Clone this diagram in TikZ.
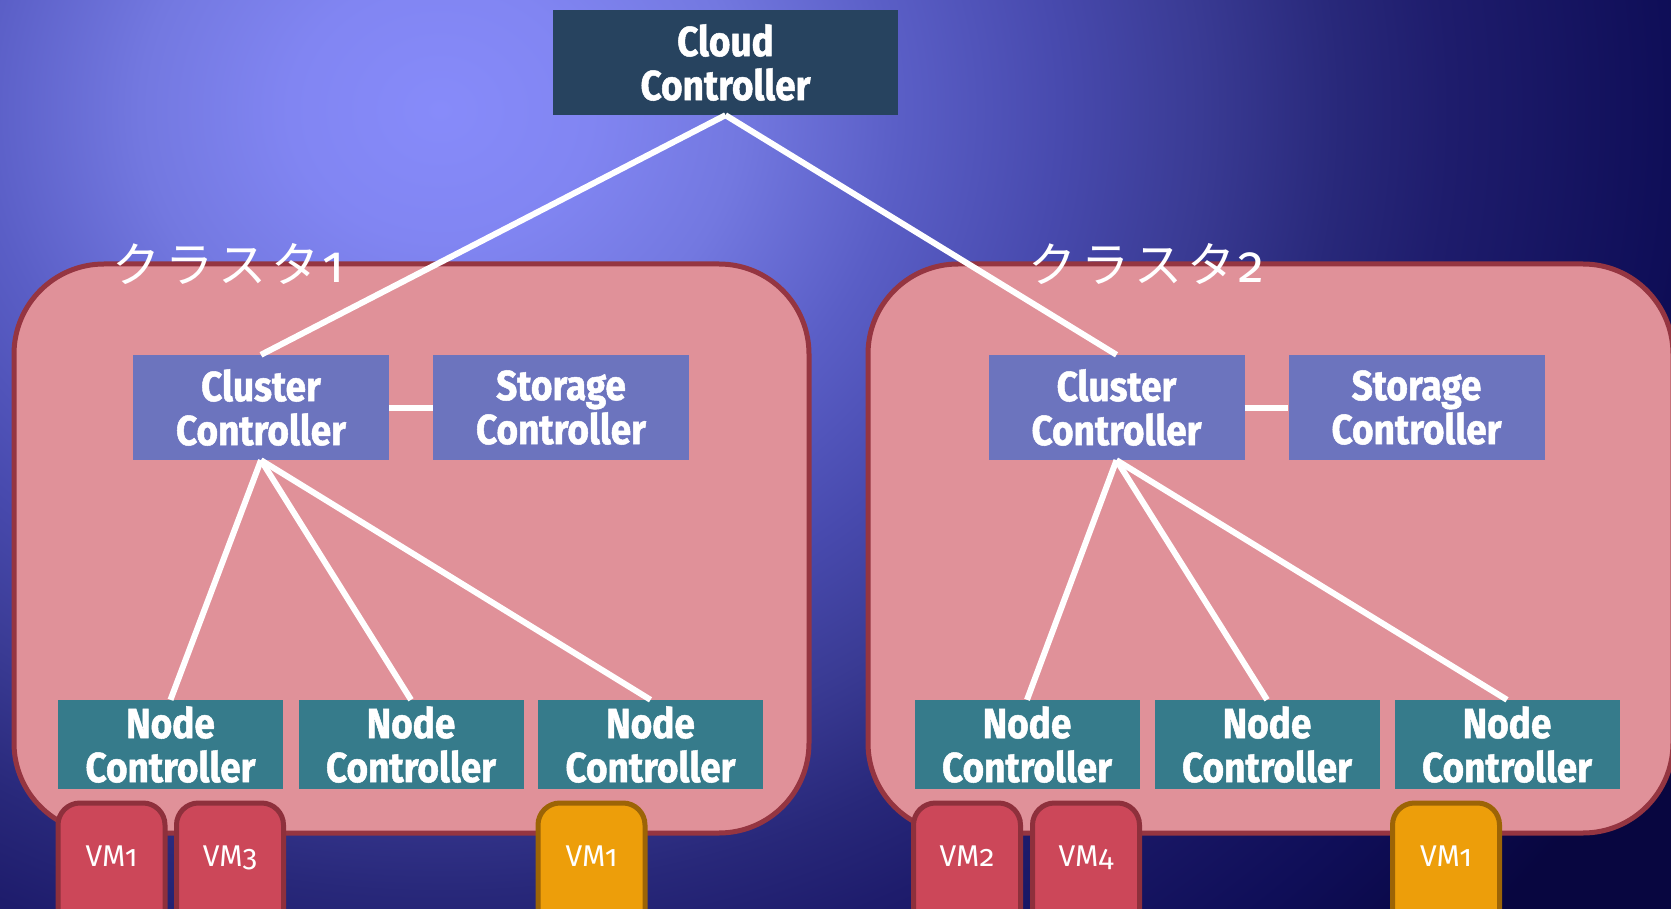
\documentclass[tikz,border=0pt]{standalone}
\usepackage{fontspec}
\setmainfont{Fira Sans}
\newfontfamily\ctlfont{Fira Sans}[FakeStretch=0.88, FakeBold=1.2]
\newfontfamily\vmfont{Fira Sans}[Numbers=OldStyle]
\newfontfamily\cjk{Noto Sans CJK JP}

\definecolor{deepnavy}{rgb}{.031,.024,.251}
\definecolor{cloudfill}{HTML}{27435F}
\definecolor{clusterfill}{HTML}{E09199}
\definecolor{clusteredge}{HTML}{953541}
\definecolor{ctlfill}{HTML}{6C74BE}
\definecolor{nodefill}{HTML}{367B8B}
\definecolor{vmredfill}{HTML}{CC4759}
\definecolor{vmrededge}{HTML}{8E303C}
\definecolor{vmorfill}{HTML}{ED9E0A}
\definecolor{vmoredge}{HTML}{9C6406}

% backdrop glow: bright periwinkle fading to deep navy (25bp = outer rim)
\pgfdeclareradialshading{skyglow}{\pgfpoint{0bp}{0bp}}{%
  rgb(0bp)=(.529,.545,.980); rgb(2.5bp)=(.506,.522,.949);
  rgb(5bp)=(.451,.471,.878); rgb(7.67bp)=(.353,.369,.776);
  rgb(10.33bp)=(.282,.290,.682); rgb(12.67bp)=(.227,.231,.580);
  rgb(15bp)=(.157,.157,.478); rgb(16.83bp)=(.118,.110,.424);
  rgb(20.5bp)=(.059,.055,.345); rgb(23.33bp)=(.031,.024,.251);
  rgb(25bp)=(.031,.024,.251); rgb(50bp)=(.031,.024,.251)}

\newcommand{\clusterword}[1]{ク\kern5ptラ\kern5ptス\kern5ptタ\kern3pt{\vmfont\fontsize{52}{52}\selectfont #1}}

\begin{document}
\begin{tikzpicture}[x=1pt,y=-1pt,
  cluster/.style={draw=clusteredge, fill=clusterfill, line width=5pt, rounded corners=90pt},
  clabel/.style={text=white, inner sep=0pt, font=\cjk\fontsize{48}{48}\selectfont},
  ctlbase/.style={rectangle, inner sep=0pt, align=center, text=white,
    font=\ctlfont\bfseries\fontsize{42}{44}\selectfont},
  cloudbox/.style={ctlbase, fill=cloudfill, minimum width=345pt, minimum height=105pt},
  clubox/.style={ctlbase, fill=ctlfill, minimum width=256pt, minimum height=105pt},
  ncbox/.style={ctlbase, fill=nodefill, minimum width=225pt, minimum height=89pt},
  vmbase/.style={rectangle, rounded corners=22pt, line width=5pt, inner sep=0pt,
    minimum width=107pt, minimum height=140pt, text height=20pt, text depth=0pt,
    text=white, font=\vmfont\fontsize{30}{30}\selectfont},
  vmred/.style={vmbase, draw=vmrededge, fill=vmredfill},
  vmorange/.style={vmbase, draw=vmoredge, fill=vmorfill},
  link/.style={draw=white, line width=6pt}]

\useasboundingbox (0,0) rectangle (1671,909);
\clip (0,0) rectangle (1671,909);
\fill[deepnavy] (0,0) rectangle (1671,909);
\shade[shading=skyglow] (440,110) ellipse [x radius=1500pt, y radius=1304pt];

% the two clusters
\draw[cluster] (14,264) rectangle (809,833);
\draw[cluster] (868,264) rectangle (1673,833);

\node[clabel, anchor=base west] (lab1) at (112,283) {\clusterword{1}};
\node[clabel, anchor=base west] (lab2) at (1028,283) {\clusterword{2}};

% controllers
\node[cloudbox] (cloud) at (725.5,62.5) {Cloud\\Controller};

\node[clubox] (cc1) at (261,407.5) {Cluster\\Controller};
\node[clubox] (sc1) at (561,407.5) {Storage\\Controller};
\node[clubox] (cc2) at (1116.5,407.5) {Cluster\\Controller};
\node[clubox] (sc2) at (1416.5,407.5) {Storage\\Controller};

\node[ncbox] (n11) at (170.5,744.5) {Node\\Controller};
\node[ncbox] (n12) at (411,744.5) {Node\\Controller};
\node[ncbox] (n13) at (650.5,744.5) {Node\\Controller};
\node[ncbox] (n21) at (1027,744.5) {Node\\Controller};
\node[ncbox] (n22) at (1267,744.5) {Node\\Controller};
\node[ncbox] (n23) at (1507,744.5) {Node\\Controller};

% links
\draw[link] (cloud.south) -- (cc1.north);
\draw[link] (cloud.south) -- (cc2.north);
\draw[link] (cc1.east) -- (sc1.west);
\draw[link] (cc2.east) -- (sc2.west);
\foreach \n in {n11,n12,n13} \draw[link] (cc1.south) -- (\n.north);
\foreach \n in {n21,n22,n23} \draw[link] (cc2.south) -- (\n.north);

% virtual machines
\node[vmred] (vm11) at (111.5,873) {\raisebox{17pt}{VM1}};
\node[vmred] (vm13) at (230,873) {\raisebox{17pt}{VM3}};
\node[vmorange] (vm1a) at (591.5,873) {\raisebox{17pt}{VM1}};
\node[vmred] (vm22) at (967,873) {\raisebox{17pt}{VM2}};
\node[vmred] (vm24) at (1086,873) {\raisebox{17pt}{VM4}};
\node[vmorange] (vm1b) at (1446,873) {\raisebox{17pt}{VM1}};
\end{tikzpicture}
\end{document}
